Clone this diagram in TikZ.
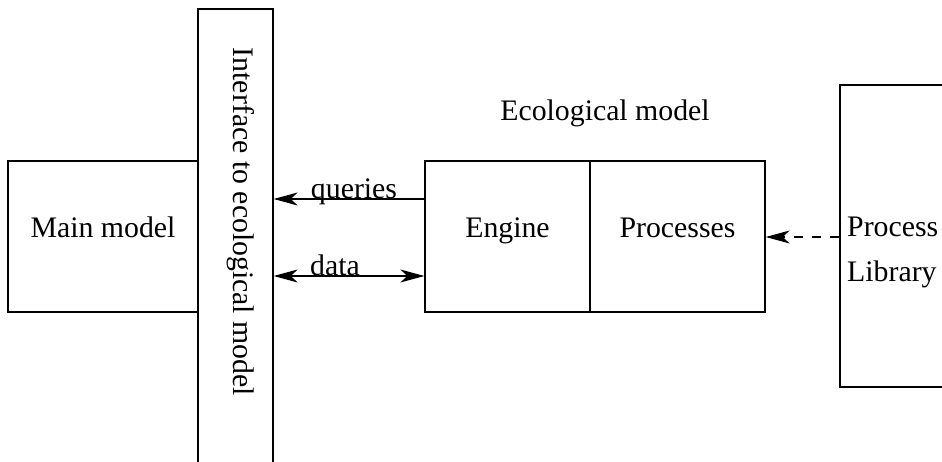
\documentclass[tikz,border=0pt]{standalone}
\usepackage{fontspec}
\setmainfont{Liberation Serif}
\usetikzlibrary{arrows.meta}
\begin{document}
\begin{tikzpicture}[x=1pt,y=-1pt,
  box/.style={draw,line width=1.3pt,inner sep=0pt,anchor=center},
  lbl/.style={font=\fontsize{29.8}{34}\selectfont,inner sep=0pt},
  arr/.style={line width=1.3pt,-{Stealth[length=24pt,width=13pt,inset=7pt]}},
  darr/.style={line width=1.3pt,{Stealth[length=24pt,width=13pt,inset=7pt]}-{Stealth[length=24pt,width=13pt,inset=7pt]}}]
\useasboundingbox (0,0) rectangle (942,462);
\clip (0,0) rectangle (942,462);
\node[box,minimum width=190pt,minimum height=151pt] (main) at (103,236.5) {};
\node[lbl,anchor=base] (maint) at (103,238) {Main model};
\node[box,minimum width=75pt,minimum height=462pt] (iface) at (235.5,240) {};
\node[lbl,rotate=-90] (ifacet) at (241,222) {Interface to ecological model};
\node[box,minimum width=165pt,minimum height=151pt] (engine) at (507.5,236.5) {};
\node[lbl,anchor=base] (enginet) at (507.5,238) {Engine};
\node[box,minimum width=175pt,minimum height=151pt] (proc) at (677.5,236.5) {};
\node[lbl,anchor=base] (proct) at (677.5,238) {Processes};
\node[lbl,anchor=base] (eco) at (605,121) {Ecological model};
\node[box,minimum width=160pt,minimum height=302pt] (lib) at (920,236) {};
\node[lbl,anchor=base west] (libt1) at (847,237) {Process};
\node[lbl,anchor=base west] (libt2) at (847,281) {Library};
\coordinate (q1) at (engine.west |- 0,199);
\coordinate (q2) at (iface.east |- 0,199);
\draw[arr] (q1) -- (q2);
\node[lbl,anchor=base] (ql) at (354,199) {queries};
\coordinate (d1) at (iface.east |- 0,276);
\coordinate (d2) at (engine.west |- 0,276);
\draw[darr] (d1) -- (d2);
\node[lbl,anchor=base] (dl) at (335,276) {data};
\coordinate (p1) at (lib.west |- 0,237);
\coordinate (p2) at (proc.east |- 0,237);
\draw[arr,dash pattern=on 9pt off 9pt] (p1) -- (p2);
\end{tikzpicture}
\end{document}
